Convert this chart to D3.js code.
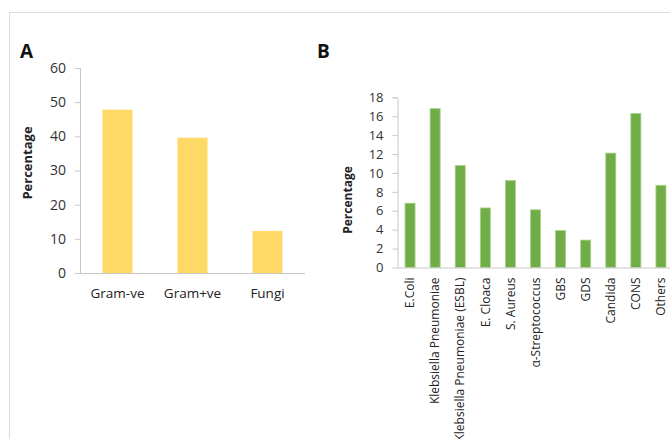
<!DOCTYPE html>
<html><head><meta charset="utf-8">
<script src="https://cdn.jsdelivr.net/npm/d3@7"></script>
<style>
html,body{margin:0;padding:0;background:#fff;overflow:hidden}
svg{display:block;font-family:"Open Sans",sans-serif}
</style></head>
<body>
<svg id="c" width="670" height="439"></svg>
<script>
const catsA = ["Gram-ve", "Gram+ve", "Fungi"];
const valsA = [47.8, 39.6, 12.3];
const ticksA = [0, 10, 20, 30, 40, 50, 60];

const catsB = ["E.Coli", "Klebsiella Pneumoniae", "Klebsiella Pneumoniae (ESBL)", "E. Cloaca", "S. Aureus", "α-Streptococcus", "GBS", "GDS", "Candida", "CONS", "Others"];
const valsB = [6.8, 16.8, 10.8, 6.3, 9.2, 6.1, 3.9, 2.9, 12.1, 16.3, 8.7];
const ticksB = [0, 2, 4, 6, 8, 10, 12, 14, 16, 18];

const svg = d3.select("#c");
// frame
svg.append("path").attr("d", "M9.5,439 V12.5 H670").attr("fill", "none").attr("stroke", "#dcdcdc").attr("stroke-width", 1);

function panel(opt) {
  const x = d3.scaleBand().domain(opt.cats).range([opt.x0, opt.x1]).paddingInner(opt.pad).paddingOuter(opt.pad / 2);
  const y = d3.scaleLinear().domain([0, opt.max]).range([opt.y0, opt.y1]);
  const g = svg.append("g");
  g.selectAll("rect").data(opt.vals).join("rect")
    .attr("x", (d, i) => x(opt.cats[i]))
    .attr("width", x.bandwidth())
    .attr("y", d => y(d))
    .attr("height", d => y(0) - y(d))
    .attr("fill", opt.color)
    .attr("stroke", opt.stroke).attr("stroke-width", opt.strokeW || 0);
  const ya = g.append("g").attr("transform", `translate(${opt.x0},0)`)
    .call(d3.axisLeft(y).tickValues(opt.ticks).tickSize(5).tickPadding(opt.tp).tickFormat(d3.format("d")));
  ya.select(".domain").attr("stroke", "#c8c8c8").attr("d", `M-5,${opt.y1 + 0.5}H0.5V${opt.y0 + 0.5}`);
  ya.selectAll(".tick line").attr("stroke", "#c8c8c8");
  ya.selectAll(".tick text").attr("fill", "#333").style("font-size", opt.fs + "px").style("font-family", "'Open Sans',sans-serif");
  const xa = g.append("g").attr("transform", `translate(0,${opt.y0})`)
    .call(d3.axisBottom(x).tickSize(0).tickPadding(opt.xtp));
  xa.select(".domain").attr("stroke", "#c8c8c8").attr("d", `M${opt.x0},0.5H${opt.axEnd}`);
  xa.selectAll(".tick text").attr("fill", "#222").style("font-size", opt.xfs + "px").style("font-family", "'Open Sans',sans-serif");
  if (opt.rotate) {
    xa.selectAll(".tick text")
      .attr("transform", "rotate(-90)")
      .attr("text-anchor", "end")
      .attr("x", -opt.xtp).attr("y", 0).attr("dy", "0.35em");
  }
  g.append("text").attr("transform", `translate(${opt.lx},${opt.ly}) rotate(-90)`)
    .attr("text-anchor", "middle").attr("font-weight", "bold").attr("fill", "#222")
    .style("font-size", opt.lfs + "px").text("Percentage");
  g.append("text").attr("x", opt.px).attr("y", opt.py).attr("font-weight", "bold")
    .style("font-size", "19px").attr("fill", "#111").text(opt.letter);
  return {x, y};
}

panel({cats: catsA, vals: valsA, ticks: ticksA, max: 60,
  x0: 80, x1: 305, y0: 273, y1: 68, pad: 0.6, color: "#FFD966",
  axEnd: 305, fs: 14, tp: 9, xfs: 13.5, xtp: 15, lx: 32, ly: 163, lfs: 13,
  px: 20, py: 58, letter: "A"});

panel({cats: catsB, vals: valsB, ticks: ticksB, max: 18,
  x0: 397.5, x1: 673.5, y0: 267.5, y1: 97.3, pad: 0.6, color: "#70AD47",
  stroke: "#A9D18E", strokeW: 0.8,
  axEnd: 680, fs: 13, tp: 9, xfs: 12, xtp: 10, rotate: true, lx: 352, ly: 200, lfs: 12,
  px: 317, py: 58, letter: "B"});
</script>
</body></html>
